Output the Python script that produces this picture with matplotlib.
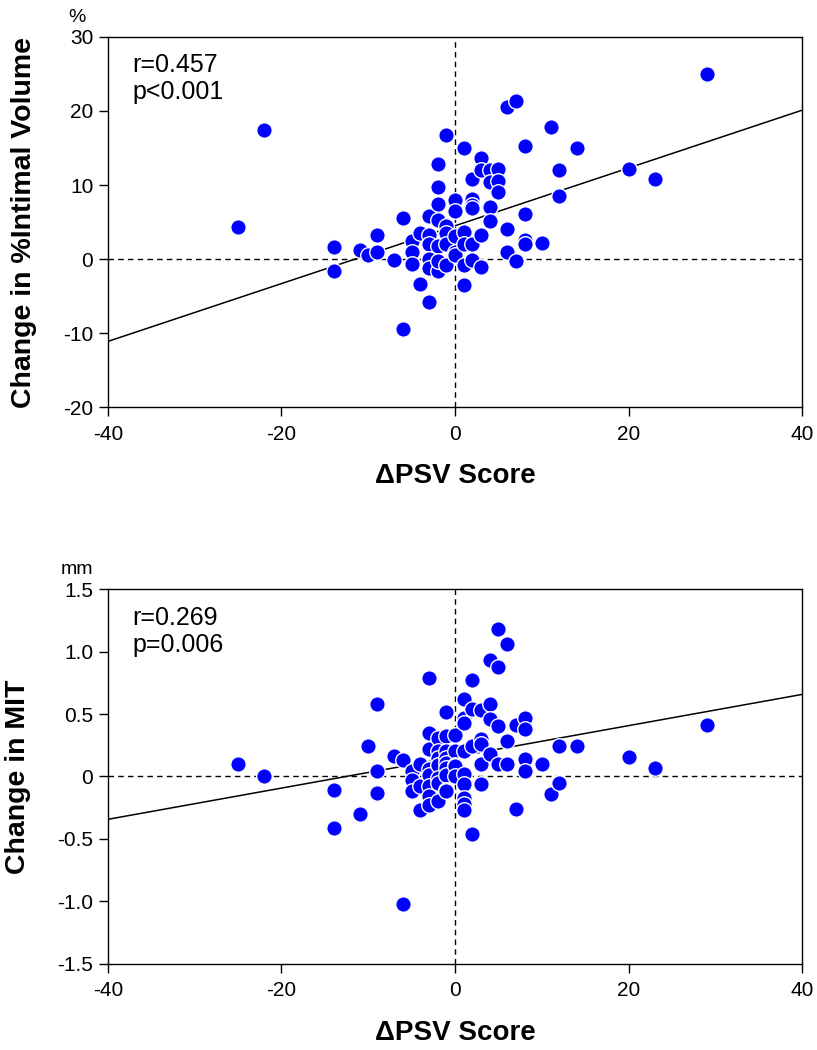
import matplotlib
matplotlib.use("Agg")
import matplotlib.pyplot as plt
import numpy as np

plt.rcParams["font.family"] = ["Liberation Sans", "DejaVu Sans"]

# top panel: change in %intimal volume vs delta PSV score
psv_top = [-25, -22, -14, -14, -11, -10, -9, -9, -7, -6, -6, -5, -5, -5,
           -4, -4, -3, -3, -3, -3, -3, -3, -2, -2, -2, -2, -2, -2, -2,
           -1, -1, -1, -1, -1, 0, 0, 0, 0, 0, 1, 1, 1, 1, 1,
           2, 2, 2, 2, 2, 2, 3, 3, 3, 3, 4, 4, 4, 4, 5, 5, 5,
           6, 6, 6, 7, 7, 8, 8, 8, 8, 10, 11, 12, 12, 14, 20, 23, 29]
piv_change = [4.3, 17.4, 1.7, -1.6, 1.2, 0.6, 3.3, 1.0, -0.1, 5.6, -9.4, 2.4, 1.0, -0.7,
              3.5, -3.3, 5.8, 3.2, 2.0, 0.0, -1.2, -5.8, 12.9, 9.7, 7.4, 5.3, 1.8, -1.6, -0.3,
              16.7, 4.5, 3.5, 2.1, -0.8, 8.0, 6.5, 3.1, 0.9, 0.6, 15.0, 3.6, 2.1, -0.8, -3.5,
              10.8, 8.1, 7.3, 6.9, 2.1, -0.1, 13.6, 12.0, 3.3, -1.1, 12.0, 10.4, 7.0, 5.1, 12.1, 10.5, 9.0,
              20.5, 4.0, 1.0, 21.4, -0.3, 15.2, 6.1, 2.6, 2.1, 2.2, 17.8, 12.0, 8.5, 15.0, 12.2, 10.8, 25.0]
fit_top = (0.39, 4.5)  # slope, intercept
stats_top = "r=0.457\np<0.001"

# bottom panel: change in MIT (mm) vs delta PSV score
psv_bot = [-25, -22, -14, -14, -11, -10, -9, -9, -9, -7, -6, -6, -5, -5, -5,
           -4, -4, -4, -3, -3, -3, -3, -3, -3, -3, -3, -2, -2, -2, -2, -2, -2, -2,
           -1, -1, -1, -1, -1, -1, -1, -1, -1, 0, 0, 0, 0, 0,
           1, 1, 1, 1, 1, 1, 1, 1, 1, 2, 2, 2, 2, 3, 3, 3, 3, 3,
           4, 4, 4, 4, 5, 5, 5, 5, 6, 6, 6, 7, 7, 8, 8, 8, 8,
           10, 11, 12, 12, 14, 20, 23, 29]
mit_change = [0.10, 0.005, -0.11, -0.41, -0.30, 0.24, 0.58, 0.04, -0.13, 0.16, 0.13, -1.02, 0.04, -0.03, -0.12,
              0.10, -0.08, -0.27, 0.79, 0.35, 0.22, 0.06, 0.01, -0.08, -0.16, -0.23, 0.31, 0.20, 0.15, 0.09, -0.01, -0.05, -0.20,
              0.52, 0.32, 0.20, 0.15, 0.11, 0.07, 0.01, -0.11, -0.12, 0.33, 0.20, 0.09, 0.08, 0.0,
              0.62, 0.47, 0.43, 0.20, 0.02, -0.06, -0.17, -0.22, -0.27, 0.77, 0.54, 0.24, -0.46, 0.53, 0.30, 0.26, 0.10, -0.06,
              0.93, 0.58, 0.46, 0.18, 1.18, 0.88, 0.40, 0.10, 1.06, 0.28, 0.10, 0.41, -0.26, 0.47, 0.38, 0.14, 0.04,
              0.10, -0.14, 0.24, -0.05, 0.24, 0.157, 0.07, 0.415]
fit_bot = (0.0125, 0.157)
stats_bot = "r=0.269\np=0.006"

x_ticks = [-40, -20, 0, 20, 40]
y_ticks_top = [-20, -10, 0, 10, 20, 30]
y_ticks_bot = [-1.5, -1.0, -0.5, 0, 0.5, 1.0, 1.5]
y_labels_bot = ["-1.5", "-1.0", "-0.5", "0", "0.5", "1.0", "1.5"]


def draw_panel(ax, x, y, fit, stats, yticks, ylabels, ylabel, unit):
    ax.axhline(0, color="black", lw=1.0, ls=(0, (4, 3)), zorder=1)
    ax.axvline(0, color="black", lw=1.0, ls=(0, (4, 3)), zorder=1)
    xs = np.array([-40, 40])
    ax.plot(xs, fit[0] * xs + fit[1], color="black", lw=1.1, zorder=2)
    ax.scatter(x, y, s=125, color="#0000ff", edgecolors="white", linewidths=1.0, zorder=3)
    ax.set_xlim(-40, 40)
    ax.set_ylim(yticks[0], yticks[-1])
    ax.set_xticks(x_ticks)
    ax.set_xticklabels([str(t) for t in x_ticks])
    ax.set_yticks(yticks)
    ax.set_yticklabels(ylabels)
    ax.tick_params(direction="out", length=6.5, width=1.0, labelsize=15)
    ax.tick_params(axis="y", pad=4)
    ax.tick_params(axis="x", pad=6)
    for sp in ax.spines.values():
        sp.set_linewidth(1.0)
    ax.set_xlabel("\u0394PSV Score", fontsize=20, fontweight="bold", labelpad=14)
    ax.set_ylabel(ylabel, fontsize=20.5, fontweight="bold", labelpad=19)
    ax.text(0.035, 0.955, stats, transform=ax.transAxes, fontsize=18,
            va="top", ha="left", linespacing=1.15)
    ax.text(-0.045, 1.03, unit, transform=ax.transAxes, fontsize=14,
            ha="center", va="bottom")


fig = plt.figure(figsize=(8.17, 10.5), dpi=100)
ax1 = fig.add_axes([0.132, 0.612, 0.850, 0.353])
ax2 = fig.add_axes([0.132, 0.082, 0.850, 0.357])

draw_panel(ax1, psv_top, piv_change, fit_top, stats_top, y_ticks_top,
           [str(t) for t in y_ticks_top], "Change in %Intimal Volume", "%")
draw_panel(ax2, psv_bot, mit_change, fit_bot, stats_bot, y_ticks_bot,
           y_labels_bot, "Change in MIT", "mm")

fig.savefig("out.png", dpi=100)
